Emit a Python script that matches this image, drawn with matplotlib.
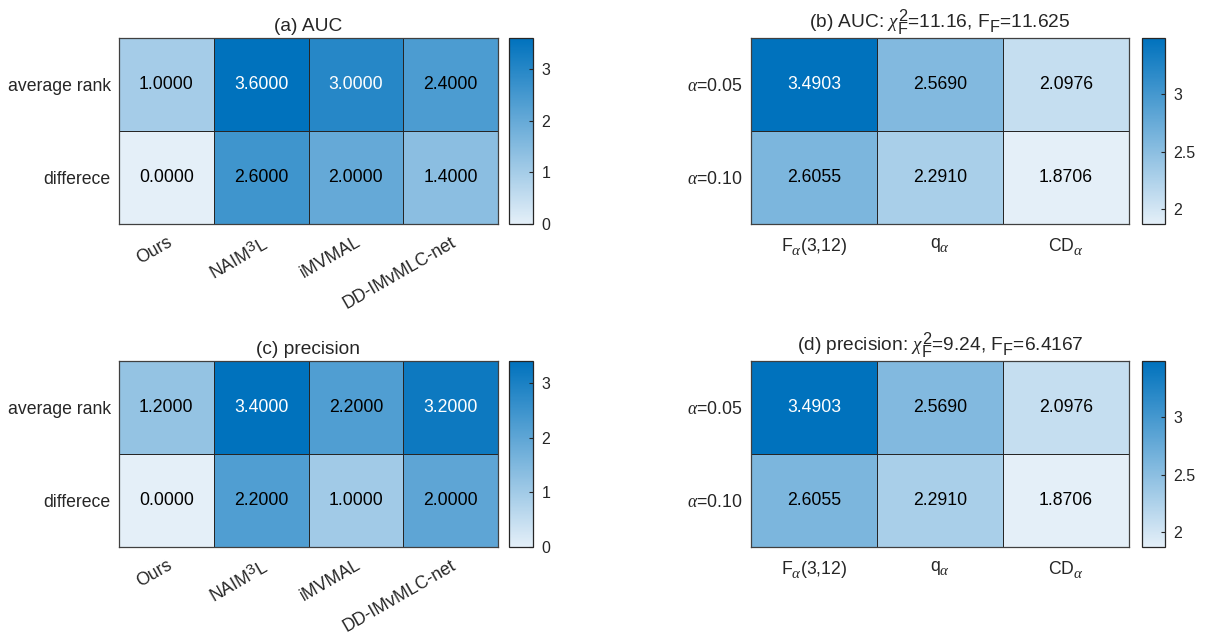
import matplotlib
matplotlib.use('Agg')
import matplotlib.pyplot as plt
import matplotlib._mathtext as _mt
import numpy as np
from matplotlib.colors import LinearSegmentedColormap
from matplotlib.ticker import FuncFormatter

# MATLAB-like (larger, lower) sub/superscripts
_mt.SHRINK_FACTOR = 0.85
_mt.FontConstantsBase.sub1 = 0.55
_mt.FontConstantsBase.sub2 = 0.75
_mt.FontConstantsBase.sup1 = 0.6

plt.rcParams['font.family'] = ['Liberation Sans', 'DejaVu Sans']
plt.rcParams['mathtext.fontset'] = 'custom'
plt.rcParams['mathtext.rm'] = 'Liberation Sans'
plt.rcParams['mathtext.it'] = 'Liberation Serif:italic'
plt.rcParams['mathtext.bf'] = 'Liberation Sans:bold'
plt.rcParams['mathtext.sf'] = 'Liberation Sans'

# ---- data ----
methods = ['Ours', 'NAIM$^{3}$L', 'iMVMAL', 'DD-IMvMLC-net']
rank_rows = ['average rank', 'differece']
auc_rank = [1.0, 3.6, 3.0, 2.4]
auc_diff = [0.0, 2.6, 2.0, 1.4]
prec_rank = [1.2, 3.4, 2.2, 3.2]
prec_diff = [0.0, 2.2, 1.0, 2.0]

crit_cols = [r'F$_{\alpha}$(3,12)', r'q$_{\alpha}$', r'CD$_{\alpha}$']
crit_rows = [r'$\alpha$=0.05', r'$\alpha$=0.10']
auc_crit_05 = [3.4903, 2.5690, 2.0976]
auc_crit_10 = [2.6055, 2.2910, 1.8706]
prec_crit_05 = [3.4903, 2.5690, 2.0976]
prec_crit_10 = [2.6055, 2.2910, 1.8706]

titles = ['(a) AUC',
          r'(b) AUC: $\chi^{2}_{\mathrm{F}}$=11.16, F$_{\mathrm{F}}$=11.625',
          '(c) precision',
          r'(d) precision: $\chi^{2}_{\mathrm{F}}$=9.24, F$_{\mathrm{F}}$=6.4167']
cticks_rank = [0, 1, 2, 3]
cticks_crit = [2, 2.5, 3]

# ---- style ----
TXT = '#262626'
cmap = LinearSegmentedColormap.from_list(
    'sky', [(228/255, 239/255, 248/255), (0/255, 114/255, 189/255)])

W, H = 1208, 638
fig = plt.figure(figsize=(W/100, H/100), dpi=100)


def pos(x0, x1, y0, y1):
    return [x0/W, 1 - y1/H, (x1 - x0)/W, (y1 - y0)/H]


def heat(axpos, cpos, data, xl, yl, title, cticks, rotate):
    ax = fig.add_axes(axpos)
    cax = fig.add_axes(cpos)
    data = np.asarray(data, dtype=float)
    vmin, vmax = data.min(), data.max()
    m = ax.pcolormesh(data, cmap=cmap, vmin=vmin, vmax=vmax,
                      edgecolors=TXT, linewidth=0.6)
    nr, nc = data.shape
    ax.set_xlim(0, nc)
    ax.set_ylim(nr, 0)
    for i in range(nr):
        for j in range(nc):
            v = data[i, j]
            t = (v - vmin) / (vmax - vmin)
            ax.text(j + 0.5, i + 0.5, f'{v:.4f}', ha='center', va='center',
                    fontsize=12.7, color='white' if t > 0.75 else 'black')
    ax.set_xticks(np.arange(nc) + 0.5)
    ax.set_yticks(np.arange(nr) + 0.5)
    ax.set_yticklabels(yl, fontsize=12.7, color=TXT)
    if rotate:
        ax.set_xticklabels(xl, fontsize=12.7, color=TXT, rotation=30,
                           ha='right', va='top', rotation_mode='anchor')
        ax.tick_params(axis='x', pad=7)
    else:
        ax.set_xticklabels(xl, fontsize=12.7, color=TXT)
        ax.tick_params(axis='x', pad=9)
    ax.tick_params(length=0)
    ax.tick_params(axis='y', pad=6)
    for s in ax.spines.values():
        s.set_edgecolor('#404040')
        s.set_linewidth(0.9)
    ax.set_title(title, fontsize=13.8, color=TXT, pad=5)

    cb = fig.colorbar(m, cax=cax)
    cb.set_ticks(cticks)
    cb.ax.yaxis.set_major_formatter(FuncFormatter(lambda v, p: f'{v:g}'))
    cb.ax.tick_params(direction='in', length=3, width=0.8, labelsize=11.5,
                      colors=TXT, pad=6)
    cb.outline.set_edgecolor(TXT)
    cb.outline.set_linewidth(0.9)
    return ax


heat(pos(119, 498, 38, 224), pos(509, 533, 38, 224),
     [auc_rank, auc_diff], methods, rank_rows, titles[0], cticks_rank, True)
heat(pos(751, 1129, 38, 224), pos(1142, 1165, 38, 224),
     [auc_crit_05, auc_crit_10], crit_cols, crit_rows, titles[1], cticks_crit, False)
heat(pos(119, 498, 361, 547), pos(509, 533, 361, 547),
     [prec_rank, prec_diff], methods, rank_rows, titles[2], cticks_rank, True)
heat(pos(751, 1129, 361, 547), pos(1142, 1165, 361, 547),
     [prec_crit_05, prec_crit_10], crit_cols, crit_rows, titles[3], cticks_crit, False)

fig.savefig('out.png', dpi=100)
